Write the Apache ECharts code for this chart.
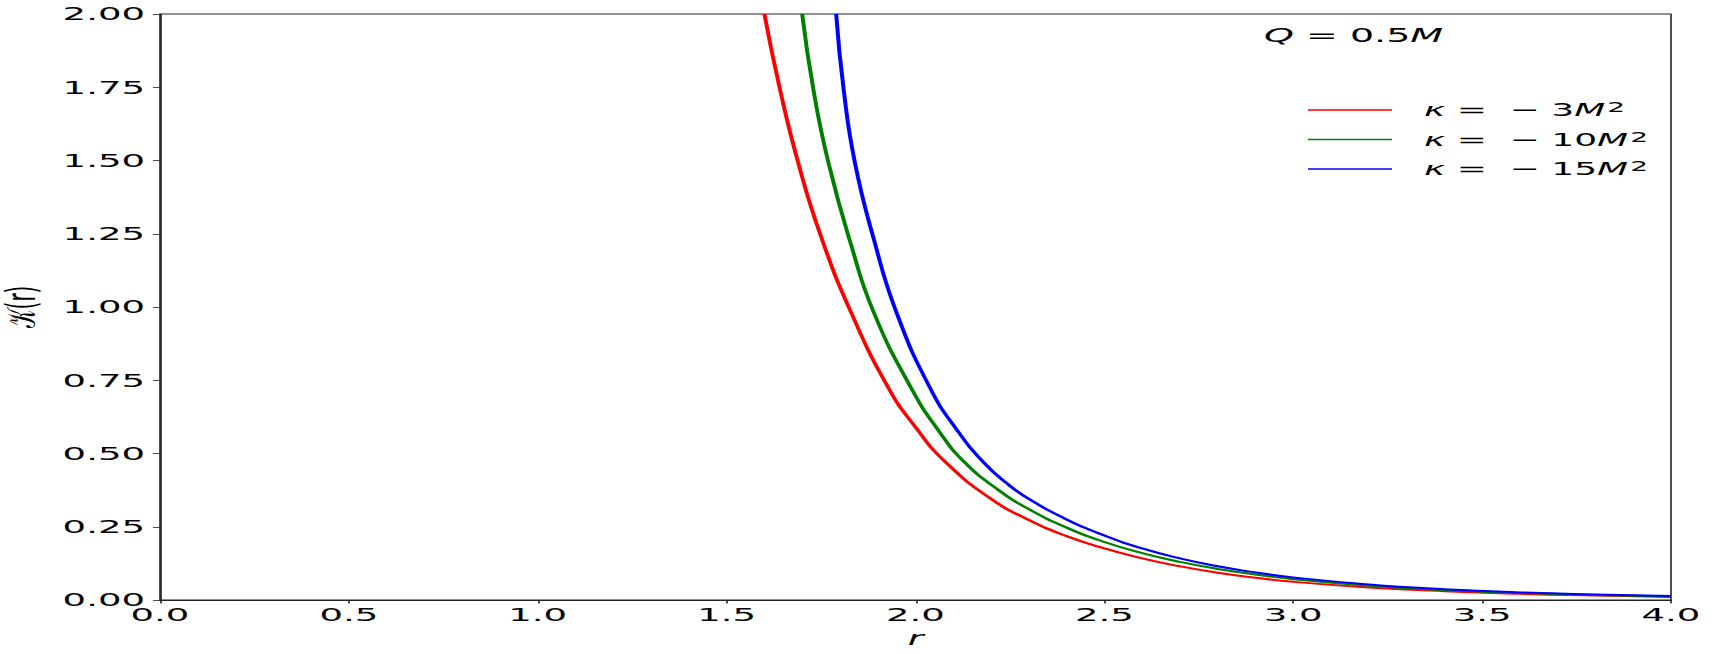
<!DOCTYPE html>
<html><head><meta charset="utf-8">
<script src="https://cdn.jsdelivr.net/npm/echarts@6/dist/echarts.min.js"></script>
<style>
html,body{margin:0;padding:0;background:#fff;overflow:hidden;width:1716px;height:654px}
#wrap{width:858px;height:654px;transform:scaleX(2);transform-origin:0 0;}
</style></head>
<body><div id="wrap"></div>
<script>
// ---- data ----
const seriesNames = ['κ = −3M²', 'κ = −10M²', 'κ = −15M²'];
const legendLabels = ['{i|κ} =  − 3{i|M}{sup|2}', '{i|κ} =  − 10{i|M}{sup|2}', '{i|κ} =  − 15{i|M}{sup|2}'];
const seriesColors = ['#ff0000', '#008000', '#0000ff'];

const redR = [1.60, 1.64, 1.69, 1.75, 1.83, 1.93, 2.00, 2.08, 2.20, 2.30, 2.40, 2.50, 2.60, 2.70, 2.80, 2.90, 3.00, 3.20, 3.40, 3.60, 3.80, 4.00];
const redK = [2.00, 1.75, 1.49, 1.24, 0.98, 0.72, 0.59, 0.47, 0.345, 0.273, 0.218, 0.176, 0.142, 0.115, 0.093, 0.076, 0.062, 0.043, 0.030, 0.021, 0.015, 0.010];

const greenR = [1.70, 1.73, 1.77, 1.83, 1.89, 1.99, 2.06, 2.13, 2.22, 2.30, 2.40, 2.50, 2.60, 2.70, 2.80, 2.90, 3.00, 3.20, 3.40, 3.60, 3.80, 4.00];
const greenK = [2.00, 1.74, 1.49, 1.21, 0.98, 0.72, 0.58, 0.47, 0.375, 0.31, 0.247, 0.198, 0.160, 0.130, 0.106, 0.087, 0.071, 0.049, 0.034, 0.024, 0.017, 0.012];

const blueR = [1.79, 1.81, 1.84, 1.89, 1.95, 2.04, 2.11, 2.18, 2.24, 2.30, 2.40, 2.50, 2.60, 2.70, 2.80, 2.90, 3.00, 3.20, 3.40, 3.60, 3.80, 4.00];
const blueK = [2.00, 1.74, 1.49, 1.23, 0.98, 0.72, 0.58, 0.47, 0.40, 0.345, 0.275, 0.22, 0.176, 0.142, 0.115, 0.094, 0.077, 0.053, 0.037, 0.026, 0.019, 0.014];

const xMin = 0, xMax = 4, xStep = 0.5;
const yMin = 0, yMax = 2, yStep = 0.25;
const titleText = '{i|Q} = 0.5{i|M}';
const xName = 'r';
const yName = '𝒦(r)';

// ---- chart ----
const FONT = 'DejaVu Sans';
const pair = (xs, ys) => xs.map((x, i) => [x, ys[i]]);
const allR = [redR, greenR, blueR];
const allK = [redK, greenK, blueK];

const chart = echarts.init(document.getElementById('wrap'), null, {renderer: 'svg', width: 858, height: 654});
const legendMap = {};
seriesNames.forEach((n, i) => legendMap[n] = legendLabels[i]);

chart.setOption({
  animation: false,
  backgroundColor: '#fff',
  title: {
    text: titleText,
    left: 627, top: 21,
    textStyle: {
      fontFamily: FONT, fontSize: 19, fontWeight: 'normal', color: '#000',
      rich: {i: {fontFamily: FONT, fontSize: 19, fontStyle: 'italic', color: '#000'}}
    }
  },
  legend: {
    orient: 'vertical',
    left: 649, top: 95,
    itemWidth: 42, itemHeight: 1.5, itemGap: 6.5,
    icon: 'rect',
    data: seriesNames,
    formatter: n => legendMap[n],
    textStyle: {
      fontFamily: FONT, fontSize: 18, color: '#000', lineHeight: 20,
      padding: [0, 0, 0, 11],
      rich: {
        i: {fontFamily: FONT, fontSize: 18, fontStyle: 'italic', color: '#000', lineHeight: 20},
        sup: {fontFamily: FONT, fontSize: 14, color: '#000', verticalAlign: 'top', lineHeight: 20, padding: [0, 0, 9, 1]}
      }
    }
  },
  grid: {
    left: 80, right: 22.5, top: 14, bottom: 54,
    show: true, borderColor: '#222', borderWidth: 0.8, backgroundColor: 'transparent',
    containLabel: false,
    outerBoundsMode: 'none'
  },
  xAxis: {
    type: 'value', min: xMin, max: xMax, interval: xStep,
    name: xName, nameLocation: 'middle', nameGap: 23,
    nameTextStyle: {fontFamily: FONT, fontSize: 19, fontStyle: 'italic', color: '#000'},
    axisLine: {show: true, lineStyle: {color: '#222', width: 0.8}},
    axisTick: {show: true, length: 3.5, lineStyle: {color: '#222', width: 0.8}},
    axisLabel: {fontFamily: FONT, fontSize: 18.5, color: '#000', margin: 5, formatter: v => v.toFixed(1)},
    splitLine: {show: false}
  },
  yAxis: {
    type: 'value', min: yMin, max: yMax, interval: yStep,
    name: yName, nameLocation: 'middle', nameGap: 53, nameRotate: 90,
    nameTextStyle: {fontFamily: FONT, fontSize: 20, color: '#000', lineHeight: 20},
    axisLine: {show: true, lineStyle: {color: '#222', width: 0.8}},
    axisTick: {show: true, length: 3.5, lineStyle: {color: '#222', width: 0.8}},
    axisLabel: {fontFamily: FONT, fontSize: 18.5, color: '#000', margin: 7.5, formatter: v => v.toFixed(2)},
    splitLine: {show: false}
  },
  series: seriesNames.map((n, i) => ({
    name: n,
    type: 'line',
    data: pair(allR[i], allK[i]),
    showSymbol: false,
    symbol: 'none',
    smooth: 0.5,
    clip: true,
    lineStyle: {color: seriesColors[i], width: 2},
    itemStyle: {color: seriesColors[i]}
  }))
});
</script>
</body></html>
